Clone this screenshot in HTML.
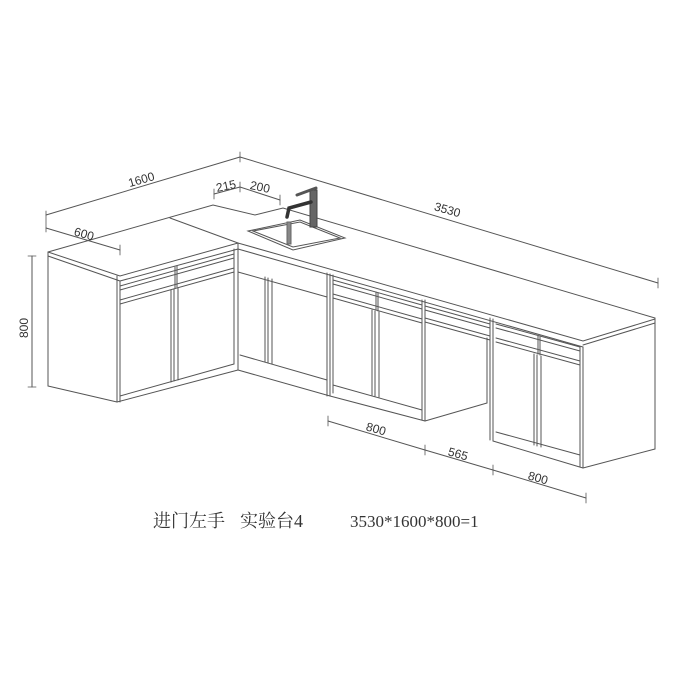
<!DOCTYPE html>
<html><head><meta charset="utf-8"><style>
html,body{margin:0;padding:0;background:#fff;width:700px;height:700px;overflow:hidden}
svg{display:block}
text{font-family:"Liberation Sans",sans-serif;fill:#333}
</style></head><body>
<svg width="700" height="700" viewBox="0 0 700 700" xmlns="http://www.w3.org/2000/svg">
<g stroke="#555" stroke-width="1" fill="none" stroke-linecap="round">
<!-- dimension lines -->
<line x1="46" y1="215" x2="240" y2="157"/>
<line x1="240" y1="157" x2="658" y2="283"/>
<line x1="46" y1="228" x2="120" y2="250"/>
<line x1="214" y1="194" x2="240" y2="187"/>
<line x1="240" y1="187" x2="280" y2="200"/>
<line x1="32" y1="256" x2="32" y2="387"/>
<line x1="328" y1="421" x2="425" y2="450"/>
<line x1="425" y1="450" x2="493" y2="470"/>
<line x1="493" y1="470" x2="586" y2="498"/>
<g stroke-width="0.8">
<line x1="46" y1="211" x2="46" y2="232"/><line x1="240" y1="152" x2="240" y2="162"/>
<line x1="658" y1="278" x2="658" y2="288"/><line x1="120" y1="245" x2="120" y2="255"/>
<line x1="214" y1="189" x2="214" y2="199"/><line x1="240" y1="182" x2="240" y2="192"/>
<line x1="280" y1="195" x2="280" y2="205"/>
<line x1="28" y1="256" x2="36" y2="256"/><line x1="28" y1="387" x2="36" y2="387"/>
<line x1="328" y1="416" x2="328" y2="426"/><line x1="425" y1="445" x2="425" y2="455"/>
<line x1="493" y1="465" x2="493" y2="475"/><line x1="586" y1="493" x2="586" y2="503"/>
</g>
<!-- countertop outline -->
<polyline points="48,252 213,205 255,215 283,208 655,318 655,323 583,345"/>
<polyline points="48,252 120,276 238,243 583,341 655,319"/>
<line x1="170" y1="218" x2="238" y2="243"/>
<line x1="48" y1="256" x2="120" y2="281"/>
<line x1="120" y1="281" x2="238" y2="249"/>
<line x1="238" y1="249" x2="583" y2="347"/>
<!-- left block -->
<line x1="48" y1="252" x2="48" y2="386"/>
<line x1="48" y1="386" x2="117" y2="402"/>
<line x1="117" y1="276" x2="117" y2="402"/>
<line x1="120" y1="281" x2="120" y2="402"/>
<line x1="117" y1="402" x2="238" y2="370"/>
<line x1="120" y1="396" x2="234" y2="364"/>
<line x1="234" y1="249" x2="234" y2="364"/>
<line x1="238" y1="243" x2="238" y2="370"/>
<line x1="120" y1="286" x2="234" y2="254"/>
<line x1="120" y1="290" x2="234" y2="258"/>
<line x1="120" y1="300" x2="234" y2="268"/>
<line x1="120" y1="304" x2="234" y2="272"/>
<line x1="175" y1="267" x2="175" y2="288"/><line x1="177" y1="266" x2="177" y2="287"/>
<line x1="171" y1="290" x2="171" y2="382"/><line x1="174" y1="289" x2="174" y2="381"/><line x1="178" y1="288" x2="178" y2="380"/>
<!-- sink cabinet 238-330 -->
<line x1="238" y1="272" x2="327" y2="297"/>
<line x1="240" y1="355" x2="327" y2="380"/>
<line x1="238" y1="370" x2="330" y2="396"/>
<line x1="265" y1="277" x2="265" y2="362"/><line x1="268" y1="278" x2="268" y2="363"/><line x1="272" y1="279" x2="272" y2="364"/>
<line x1="327" y1="273" x2="327" y2="396"/><line x1="330" y1="274" x2="330" y2="396"/>
<!-- cabinet 2 330-425 -->
<line x1="333" y1="280" x2="422" y2="305"/><line x1="333" y1="284" x2="422" y2="309"/>
<line x1="333" y1="294" x2="422" y2="319"/><line x1="333" y1="298" x2="422" y2="323"/>
<line x1="376" y1="292" x2="376" y2="310"/><line x1="378" y1="293" x2="378" y2="311"/>
<line x1="333" y1="385" x2="422" y2="410"/>
<line x1="330" y1="396" x2="425" y2="421"/>
<line x1="372" y1="310" x2="372" y2="395"/><line x1="375" y1="311" x2="375" y2="396"/><line x1="379" y1="312" x2="379" y2="397"/>
<line x1="333" y1="275" x2="333" y2="393"/>
<line x1="422" y1="300" x2="422" y2="420"/><line x1="425" y1="300" x2="425" y2="421"/>
<!-- knee space -->
<line x1="425" y1="306" x2="490" y2="324"/><line x1="425" y1="310" x2="490" y2="328"/>
<line x1="425" y1="318" x2="490" y2="336"/><line x1="425" y1="322" x2="490" y2="340"/>
<line x1="425" y1="421" x2="487" y2="403"/>
<line x1="487" y1="338" x2="487" y2="403"/>
<!-- right cabinet -->
<line x1="490" y1="318" x2="490" y2="440"/><line x1="493" y1="319" x2="493" y2="441"/>
<line x1="496" y1="324" x2="580" y2="347"/><line x1="496" y1="328" x2="580" y2="351"/>
<line x1="496" y1="338" x2="580" y2="361"/><line x1="496" y1="342" x2="580" y2="365"/>
<line x1="538" y1="336" x2="538" y2="354"/><line x1="540" y1="337" x2="540" y2="355"/>
<line x1="534" y1="354" x2="534" y2="445"/><line x1="537" y1="355" x2="537" y2="446"/><line x1="541" y1="356" x2="541" y2="447"/>
<line x1="496" y1="432" x2="580" y2="455"/>
<line x1="493" y1="441" x2="583" y2="468"/>
<line x1="580" y1="347" x2="580" y2="467"/><line x1="583" y1="347" x2="583" y2="468"/>
<line x1="583" y1="468" x2="655" y2="449"/>
<line x1="655" y1="323" x2="655" y2="449"/>
<!-- sink -->
<polygon points="248,231 300,220 345,238 293,250"/>
<polygon points="253,231 300,222 340,238 293,247"/>
<!-- faucet -->
<rect x="310" y="190" width="7" height="37" fill="#666" stroke="#444"/>
<line x1="297" y1="195" x2="316" y2="188" stroke-width="3"/>
<polyline points="311,202 289,208 287,217" stroke-width="3.5" stroke="#333"/>
<rect x="287" y="222" width="4" height="22" fill="#888" stroke="#666"/>
</g>
<g font-size="12" fill="#444">
<text x="128" y="184" transform="rotate(-16 140 180)">1600</text>
<text x="434" y="214" transform="rotate(16 448 210)">3530</text>
<text x="74" y="238" transform="rotate(16 84 234)">600</text>
<text x="216" y="190" transform="rotate(-12 226 186)">215</text>
<text x="250" y="191" transform="rotate(12 260 187)">200</text>
<text x="14" y="332" transform="rotate(-90 24 328)">800</text>
<text x="366" y="433" transform="rotate(16 376 429)">800</text>
<text x="448" y="458" transform="rotate(16 458 454)">565</text>
<text x="528" y="482" transform="rotate(16 538 478)">800</text>
</g>
<text x="153" y="527" font-size="18" style="font-family:'Liberation Serif','Noto Serif CJK SC',serif" fill="#222">进门左手</text>
<text x="240" y="527" font-size="18" style="font-family:'Liberation Serif','Noto Serif CJK SC',serif" fill="#222">实验台4</text>
<text x="350" y="527" font-size="17" style="font-family:'Liberation Serif',serif" fill="#222">3530*1600*800=1</text>
</svg>
</body></html>
